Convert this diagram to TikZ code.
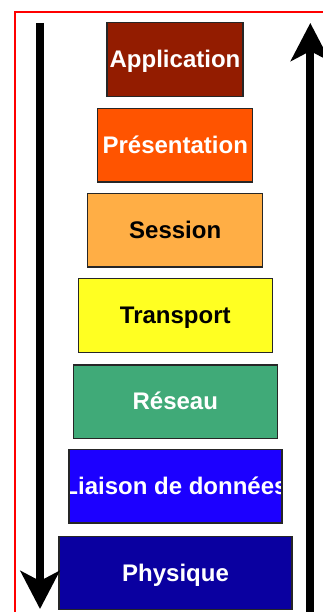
\documentclass[tikz,border=0pt]{standalone}
\usepackage{fontspec}
\setmainfont{Liberation Sans}
\usetikzlibrary{arrows.meta}

% layer fills
\definecolor{appc}{HTML}{931C00}
\definecolor{presc}{HTML}{FF5400}
\definecolor{sessc}{HTML}{FFAE45}
\definecolor{transc}{HTML}{FFFF22}
\definecolor{resc}{HTML}{40AA78}
\definecolor{liaic}{HTML}{1C00FF}
\definecolor{physc}{HTML}{0A00A0}

\begin{document}
\begin{tikzpicture}[x=1pt, y=-1pt, every node/.style={font=\bfseries\fontsize{24}{28}\selectfont,text height=17.2pt,text depth=1pt}]
  \tikzstyle{layer}=[draw=black!85,line width=1.2pt,minimum height=73.5pt,inner sep=0pt]
  \tikzstyle{flow}=[line width=8pt,-{Stealth[length=38pt,width=39pt,inset=10pt]}]
  \clip (0,0) rectangle (323,612);
  \fill[white] (0,0) rectangle (323,612);
  \draw[red,line width=1.7pt] (14.7,12.3) rectangle (340,640);

  % the seven layers, top to bottom
  \node[layer,fill=appc,text=white,minimum width=136pt] (app) at (175,59.5) {Application};
  \node[layer,fill=presc,text=white,minimum width=155pt] (pres) at (175.3,145.3) {Présentation};
  \node[layer,fill=sessc,minimum width=175pt] (sess) at (175.2,230.2) {Session};
  \node[layer,fill=transc,minimum width=194pt] (trans) at (175.3,315.5) {Transport};
  \node[layer,fill=resc,text=white,minimum width=204pt] (res) at (175.3,401.7) {Réseau};
  \node[layer,fill=liaic,minimum width=213pt,path picture={
      \node[text=white] at (path picture bounding box.center) {Liaison de données};}] (liai) at (175.5,486.2) {};
  \node[layer,fill=physc,text=white,minimum width=233pt] (phys) at (175.5,573) {Physique};

  % sending side goes down, receiving side goes up
  \coordinate (downtop) at (40,23);
  \coordinate (downend) at (40,609);
  \coordinate (upstart) at (310.3,625);
  \coordinate (upend) at (310.3,23);
  \draw[flow] (downtop) -- (downend);
  \draw[flow] (upstart) -- (upend);
\end{tikzpicture}
\end{document}
